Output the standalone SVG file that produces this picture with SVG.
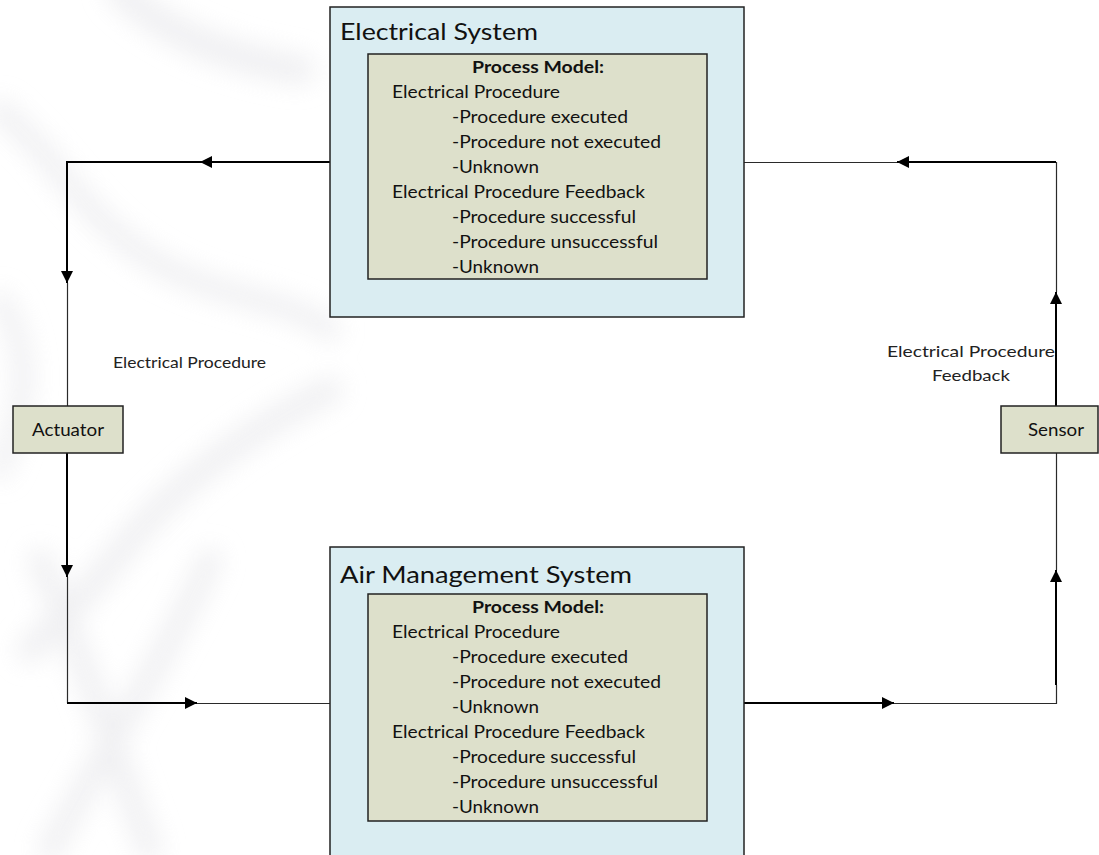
<svg xmlns="http://www.w3.org/2000/svg" width="1099" height="855" viewBox="0 0 1099 855">
  <defs>
    <marker id="arrow" markerWidth="12" markerHeight="12" refX="12" refY="6" orient="auto" markerUnits="userSpaceOnUse">
      <path d="M0,0 L12,6 L0,12 z" fill="#000"/>
    </marker>
    <filter id="soft" x="-30%" y="-30%" width="160%" height="160%">
      <feGaussianBlur stdDeviation="12"/>
    </filter>
    <style>
      .sys { fill: #daedf2; stroke: #222; stroke-width: 1.5; }
      .pm { fill: #dde0cb; stroke: #222; stroke-width: 1.5; }
      .dev { fill: #dde0cb; stroke: #222; stroke-width: 1.5; }
      .title { font-family: Lato, "Liberation Sans", sans-serif; font-size: 24px; fill: #111; }
      .body { font-family: Lato, "Liberation Sans", sans-serif; font-size: 17px; fill: #111; }
      .bold { font-weight: bold; }
      .lbl { font-family: Lato, "Liberation Sans", sans-serif; font-size: 15px; fill: #222; }
      .thick { fill: none; stroke: #000; stroke-width: 2; }
      .thin { fill: none; stroke: #2a2a2a; stroke-width: 1.2; }
      .wm { fill: none; stroke: #ebebee; stroke-linecap: round; }
    </style>
  </defs>

  <rect width="1099" height="855" fill="#fff"/>

  <!-- faint background swirl -->
  <g id="backdrop" filter="url(#soft)" opacity="0.75">
    <path class="wm" stroke-width="30" d="M120,-10 C170,40 240,60 300,70"/>
    <path class="wm" stroke-width="22" d="M0,110 C60,160 90,230 170,270 C230,300 290,300 330,330"/>
    <path class="wm" stroke-width="26" d="M330,390 C250,430 180,480 130,540 C90,590 60,620 30,650"/>
    <path class="wm" stroke-width="24" d="M40,560 C80,650 110,740 150,850"/>
    <path class="wm" stroke-width="24" d="M210,560 C170,650 110,740 50,850"/>
    <path class="wm" stroke-width="20" d="M0,300 C40,360 20,420 0,470"/>
  </g>

  <!-- connectors -->
  <g id="connectors">
    <!-- Electrical System to Actuator -->
    <path class="thick" d="M330,162 L200,162" marker-end="url(#arrow)"/>
    <path class="thick" d="M200,162 L67,162 L67,283" marker-end="url(#arrow)"/>
    <path class="thin" d="M67.5,283 L67.5,406"/>
    <!-- Actuator to Air Management System -->
    <path class="thick" d="M67,453 L67,577" marker-end="url(#arrow)"/>
    <path class="thin" d="M67.5,577 L67.5,703"/>
    <path class="thick" d="M67,703 L197,703" marker-end="url(#arrow)"/>
    <path class="thin" d="M197,703.5 L330,703.5"/>
    <!-- Air Management System to Sensor -->
    <path class="thick" d="M744,703 L894,703" marker-end="url(#arrow)"/>
    <path class="thin" d="M894,703.5 L1056.5,703.5 L1056.5,685"/>
    <path class="thick" d="M1056,685 L1056,570" marker-end="url(#arrow)"/>
    <path class="thin" d="M1056.5,570 L1056.5,453"/>
    <!-- Sensor to Electrical System -->
    <path class="thick" d="M1056,406 L1056,292" marker-end="url(#arrow)"/>
    <path class="thin" d="M1056.5,292 L1056.5,162"/>
    <path class="thick" d="M1056,162 L897,162" marker-end="url(#arrow)"/>
    <path class="thin" d="M897,162.5 L744,162.5"/>

    <text class="lbl" x="113" y="368" textLength="153" lengthAdjust="spacingAndGlyphs">Electrical Procedure</text>
    <text class="lbl" x="887" y="357" textLength="168" lengthAdjust="spacingAndGlyphs">Electrical Procedure</text>
    <text class="lbl" x="932" y="381" textLength="78" lengthAdjust="spacingAndGlyphs">Feedback</text>
  </g>

  <!-- Electrical System -->
  <g id="electrical-system">
    <rect class="sys" x="330" y="7" width="414" height="310"/>
    <text class="title" x="340" y="40" textLength="198" lengthAdjust="spacingAndGlyphs">Electrical System</text>
    <rect class="pm" x="368" y="54" width="339" height="225"/>
    <text class="body bold" x="472" y="73" textLength="132" lengthAdjust="spacingAndGlyphs">Process Model:</text>
    <text class="body" x="392" y="98" textLength="168" lengthAdjust="spacingAndGlyphs">Electrical Procedure</text>
    <text class="body" x="452" y="123" textLength="176" lengthAdjust="spacingAndGlyphs">-Procedure executed</text>
    <text class="body" x="452" y="148" textLength="209" lengthAdjust="spacingAndGlyphs">-Procedure not executed</text>
    <text class="body" x="452" y="173" textLength="87" lengthAdjust="spacingAndGlyphs">-Unknown</text>
    <text class="body" x="392" y="198" textLength="253" lengthAdjust="spacingAndGlyphs">Electrical Procedure Feedback</text>
    <text class="body" x="452" y="223" textLength="184" lengthAdjust="spacingAndGlyphs">-Procedure successful</text>
    <text class="body" x="452" y="248" textLength="206" lengthAdjust="spacingAndGlyphs">-Procedure unsuccessful</text>
    <text class="body" x="452" y="273" textLength="87" lengthAdjust="spacingAndGlyphs">-Unknown</text>
  </g>

  <!-- Air Management System -->
  <g id="air-management-system">
    <rect class="sys" x="330" y="547" width="414" height="320"/>
    <text class="title" x="340" y="583" textLength="292" lengthAdjust="spacingAndGlyphs">Air Management System</text>
    <rect class="pm" x="368" y="594" width="339" height="227"/>
    <text class="body bold" x="472" y="613" textLength="132" lengthAdjust="spacingAndGlyphs">Process Model:</text>
    <text class="body" x="392" y="638" textLength="168" lengthAdjust="spacingAndGlyphs">Electrical Procedure</text>
    <text class="body" x="452" y="663" textLength="176" lengthAdjust="spacingAndGlyphs">-Procedure executed</text>
    <text class="body" x="452" y="688" textLength="209" lengthAdjust="spacingAndGlyphs">-Procedure not executed</text>
    <text class="body" x="452" y="713" textLength="87" lengthAdjust="spacingAndGlyphs">-Unknown</text>
    <text class="body" x="392" y="738" textLength="253" lengthAdjust="spacingAndGlyphs">Electrical Procedure Feedback</text>
    <text class="body" x="452" y="763" textLength="184" lengthAdjust="spacingAndGlyphs">-Procedure successful</text>
    <text class="body" x="452" y="788" textLength="206" lengthAdjust="spacingAndGlyphs">-Procedure unsuccessful</text>
    <text class="body" x="452" y="813" textLength="87" lengthAdjust="spacingAndGlyphs">-Unknown</text>
  </g>

  <!-- Actuator -->
  <g id="actuator">
    <rect class="dev" x="13" y="406" width="110" height="47"/>
    <text class="body" x="68" y="436" text-anchor="middle" font-size="17" textLength="72" lengthAdjust="spacingAndGlyphs">Actuator</text>
  </g>

  <!-- Sensor -->
  <g id="sensor">
    <rect class="dev" x="1001" y="406" width="97" height="47"/>
    <text class="body" x="1056" y="436" text-anchor="middle" font-size="17" textLength="56" lengthAdjust="spacingAndGlyphs">Sensor</text>
  </g>
</svg>
